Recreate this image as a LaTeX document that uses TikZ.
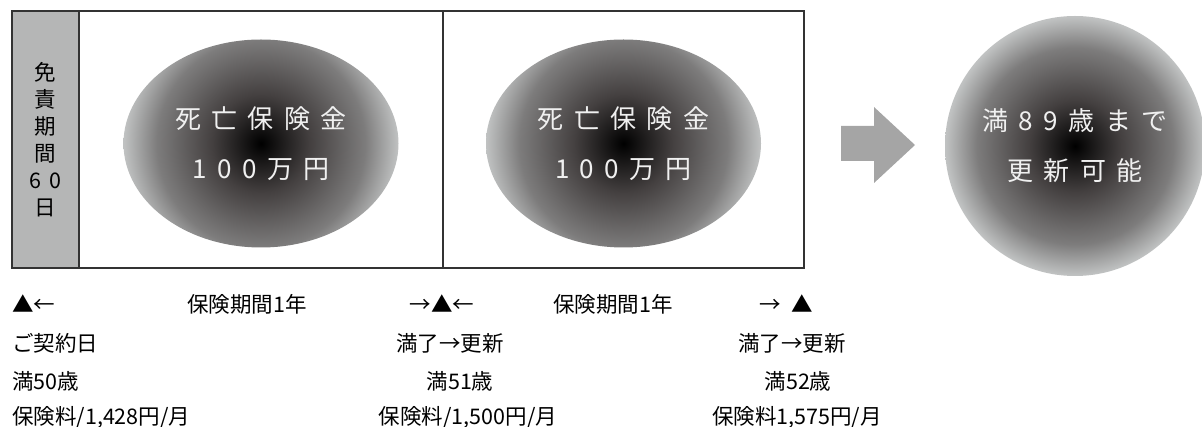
\documentclass[tikz,border=0pt]{standalone}
\usepackage{fontspec}
\usetikzlibrary{positioning, shapes.geometric}
\newfontfamily\jp{Noto Sans CJK JP}
\newfontfamily\jpwide[LetterSpace=40]{Noto Sans CJK JP}
\definecolor{stripgray}{RGB}{181,182,182}
\definecolor{arrowgray}{RGB}{165,165,165}
\definecolor{rimgray}{RGB}{192,194,194}
\definecolor{orbdim}{RGB}{125,124,124}
\definecolor{orbmid}{RGB}{68,64,64}
\definecolor{framegray}{RGB}{51,51,51}
\pgfdeclareradialshading{orb}{\pgfpoint{0bp}{0bp}}{color(0bp)=(black); color(8.75bp)=(orbmid);
    color(18.6bp)=(orbdim); color(24.5bp)=(rimgray); color(50bp)=(rimgray)}
\tikzset{
    panel/.style={draw=framegray, line width=1.2pt, minimum height=257pt, inner sep=0pt, outer sep=0pt},
    ball/.style={path picture={\shade[shading=orb] (path picture bounding box.center) circle (#1);},
                 text=white!94!black, align=center, inner sep=0pt,
                 font=\jpwide\fontsize{26}{50}\selectfont},
    note/.style={inner sep=0pt, font=\jp\fontsize{21.5}{26}\selectfont},
}

\begin{document}
\begin{tikzpicture}[x=1pt, y=-1pt, node distance=0pt]
    \useasboundingbox (0,0) rectangle (1202,427);

    \node[panel, fill=stripgray, minimum width=67pt, align=center,
          font=\jpwide\fontsize{21.5}{27}\selectfont]                   (free)  at (45.5,139.5) {免\\責\\期\\間\\60\\日};
    \node[panel, minimum width=364pt, right=of free]                   (term1) {};
    \node[panel, minimum width=361pt, right=of term1]                  (term2) {};
    \node[ball=140pt, ellipse, minimum width=275pt, minimum height=208pt] (sum1)  at ([yshift=-4pt]term1) {死亡保険金\\100万円};
    \node[ball=140pt, ellipse, minimum width=275pt, minimum height=208pt] (sum2)  at ([yshift=-4pt]term2) {死亡保険金\\100万円};
    \node[ball=132pt, circle, minimum size=260pt]                        (renew) at (1075,146) {満89歳まで\\更新可能};

    \fill[arrowgray] (841,126) -- (874,126) -- (874,107) -- (915,145) -- (874,183) -- (874,161) -- (841,161) -- cycle;

    \node[note, anchor=west] (start)  at (12,304)  {▲←};
    \node[note]              (year1)  at (247,304) {保険期間1年};
    \node[note]              (mark1)  at (442,304) {→▲←};
    \node[note]              (year2)  at (613,304) {保険期間1年};
    \node[note]              (mark2)  at (786,304) {→\hspace{.5em}▲};
    \node[note, anchor=west] (date0)  at (12,343)  {ご契約日};
    \node[note]              (date1)  at (450,343) {満了→更新};
    \node[note]              (date2)  at (792,343) {満了→更新};
    \node[note, anchor=west] (age0)   at (12,381)  {満50歳};
    \node[note]              (age1)   at (460,381) {満51歳};
    \node[note]              (age2)   at (798,381) {満52歳};
    \node[note, anchor=west] (fee0)   at (12,418)  {保険料/1,428円/月};
    \node[note]              (fee1)   at (468,418) {保険料/1,500円/月};
    \node[note]              (fee2)   at (797,418) {保険料1,575円/月};
\end{tikzpicture}
\end{document}
